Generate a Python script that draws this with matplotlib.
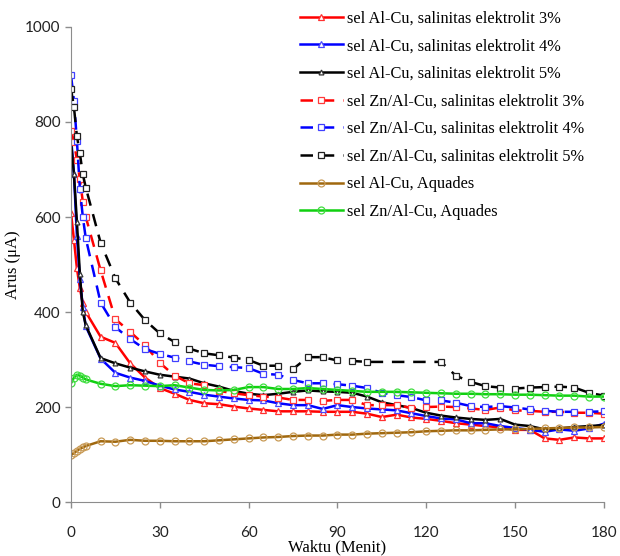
import matplotlib
matplotlib.use("Agg")
import matplotlib.pyplot as plt

# waktu pengukuran (menit)
t_awal = [0, 1, 2, 3, 4, 5]
t_lanjut = list(range(10, 185, 5))
waktu = t_awal + t_lanjut

# sel Al-Cu (garis penuh, segitiga)
alcu_3 = [609, 552, 492, 450, 418, 400, 348, 335, 292, 262, 240, 228, 215, 208, 206, 201, 197,
          194, 191, 191, 191, 190, 190, 190, 186, 179, 184, 178, 175, 171, 166, 163, 160, 157,
          152, 152, 134, 131, 136, 134, 134]
alcu_4 = [770, 690, 560, 470, 410, 370, 302, 272, 262, 255, 245, 237, 232, 226, 222, 218, 215,
          214, 208, 204, 204, 196, 204, 200, 197, 195, 193, 187, 181, 176, 174, 166, 166, 160,
          156, 152, 148, 153, 150, 155, 165]
alcu_5 = [760, 690, 590, 480, 400, 372, 303, 292, 283, 275, 268, 264, 260, 250, 243, 234, 228,
          225, 228, 232, 235, 233, 232, 230, 222, 210, 204, 198, 188, 182, 178, 175, 173, 175,
          163, 160, 153, 155, 158, 160, 162]

# sel Zn/Al-Cu (garis putus-putus, kotak)
znalcu_3 = [782, 758, 720, 680, 632, 600, 488, 385, 358, 330, 293, 266, 250, 246, 234, 229, 225,
            222, 220, 215, 215, 213, 215, 215, 204, 204, 204, 198, 200, 201, 200, 197, 194, 199,
            193, 192, 190, 190, 188, 188, 186]
znalcu_4 = [899, 845, 760, 660, 600, 555, 420, 368, 343, 322, 312, 304, 296, 289, 286, 284, 282,
            270, 268, 257, 250, 250, 248, 245, 240, 230, 225, 221, 214, 214, 209, 202, 200, 202,
            199, 195, 192, 190, 190, 190, 191]
# 5% : tidak ada data antara menit 105 dan 120
waktu_zn5 = [w for w in waktu if not (100 < w < 125)]
znalcu_5 = [870, 831, 770, 734, 690, 662, 546, 471, 420, 383, 355, 337, 323, 313, 309, 304, 299,
            287, 287, 280, 305, 305, 298, 297, 295, 295, 266, 253, 244, 241, 239, 241, 242, 243,
            241, 230, 224]

# aquades (garis penuh, lingkaran)
alcu_aq = [99, 103, 108, 112, 115, 118, 128, 127, 131, 129, 129, 128, 128, 128, 130, 132, 134,
           136, 137, 139, 140, 140, 142, 142, 144, 145, 146, 147, 149, 150, 151, 151, 152, 153,
           153, 154, 155, 156, 157, 157, 158]
znalcu_aq = [250, 262, 268, 266, 262, 258, 249, 244, 246, 245, 244, 246, 241, 236, 235, 236, 242,
             242, 238, 238, 240, 238, 236, 234, 232, 232, 232, 231, 230, 229, 228, 228, 227, 227,
             226, 226, 225, 224, 224, 222, 222]

xticks = [0, 30, 60, 90, 120, 150, 180]
yticks = [0, 200, 400, 600, 800, 1000]

serif = ["Liberation Serif", "DejaVu Serif"]
sans = ["Lato", "DejaVu Sans"]

fig = plt.figure(figsize=(6.2, 5.56), dpi=100)
ax = fig.add_axes([0.1145, 0.097, 0.8595, 0.8545])

hollow = dict(markerfacecolor="white", markeredgewidth=0.9)
dash = (0, (5, 3.5))

ax.plot(waktu, alcu_3, color="#ff0000", lw=1.8, marker="^", ms=4, mec="#ff3030",
        label="sel Al-Cu, salinitas elektrolit 3%", **hollow)
ax.plot(waktu, alcu_4, color="#0000ff", lw=1.8, marker="^", ms=4, mec="#4a4aff",
        label="sel Al-Cu, salinitas elektrolit 4%", **hollow)
ax.plot(waktu, alcu_5, color="#000000", lw=1.8, marker="^", ms=3.5, mec="#333333",
        label="sel Al-Cu, salinitas elektrolit 5%", **hollow)
ax.plot(waktu, znalcu_3, color="#ff0000", lw=1.8, ls=dash, marker="s", ms=5, mec="#ff3a3a",
        label="sel Zn/Al-Cu, salinitas elektrolit 3%", **hollow)
ax.plot(waktu, znalcu_4, color="#0000ff", lw=1.8, ls=dash, marker="s", ms=5, mec="#4040ff",
        label="sel Zn/Al-Cu, salinitas elektrolit 4%", **hollow)
ax.plot(waktu_zn5, znalcu_5, color="#000000", lw=1.8, ls=dash, marker="s", ms=5, mec="#222222",
        label="sel Zn/Al-Cu, salinitas elektrolit 5%", **hollow)
ax.plot(waktu, alcu_aq, color="#a0680e", lw=1.8, marker="o", ms=5, mec="#c89a55",
        markerfacecolor="none", markeredgewidth=0.9, label="sel Al-Cu, Aquades")
ax.plot(waktu, znalcu_aq, color="#10d010", lw=1.8, marker="o", ms=5, mec="#40dd40",
        markerfacecolor="none", markeredgewidth=0.9, label="sel Zn/Al-Cu, Aquades")

ax.set_xlim(0, 180)
ax.set_ylim(0, 1000)
ax.set_xticks(xticks)
ax.set_yticks(yticks)
for s in ["top", "right"]:
    ax.spines[s].set_visible(False)
for s in ["left", "bottom"]:
    ax.spines[s].set_color("#8c8c8c")
ax.tick_params(axis="both", colors="#8c8c8c", labelcolor="#222222", length=4, width=1,
               labelsize=11)
ax.tick_params(axis="x", pad=13)
for lab in ax.get_xticklabels() + ax.get_yticklabels():
    lab.set_family(sans)

ax.set_xlabel("Waktu (Menit)", family=serif, fontsize=12, labelpad=0)
ax.set_ylabel("Arus (μA)", family=serif, fontsize=12, labelpad=3)

leg = ax.legend(loc="upper left", bbox_to_anchor=(0.484, 0.981), bbox_transform=fig.transFigure,
                frameon=False, prop={"family": serif, "size": 11.8}, handlelength=2.6,
                labelspacing=0.71, handletextpad=0.25, borderaxespad=0, borderpad=0)

fig.savefig("out.png", dpi=100)
